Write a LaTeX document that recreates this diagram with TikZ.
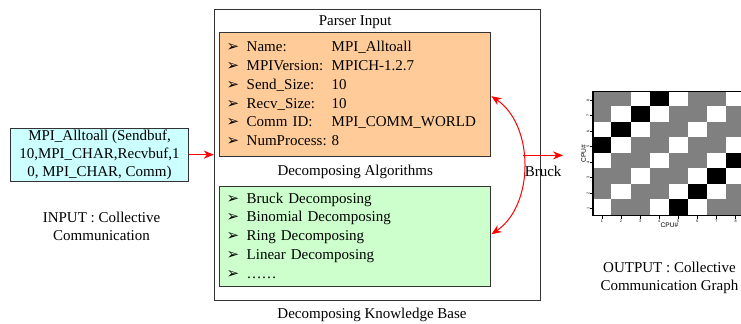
\documentclass[tikz,border=0pt]{standalone}
\usepackage{fontspec}
\setmainfont{Liberation Serif}
\setsansfont{Liberation Sans}
\newfontfamily\dingfont{DejaVu Sans}
\usetikzlibrary{positioning,arrows.meta,calc,matrix}
\definecolor{callfill}{RGB}{204,255,255}
\definecolor{parsefill}{RGB}{255,204,153}
\definecolor{algofill}{RGB}{204,255,204}
\definecolor{linkred}{RGB}{255,0,0}
\colorlet{cg}{black!50}
\colorlet{cw}{white}
\colorlet{ck}{black}
\newcommand{\bul}{{\dingfont\fontsize{12}{12}\selectfont ➢}}
\tikzset{
  txt/.style={font=\fontsize{12}{14.4}\selectfont, align=center, inner sep=0pt},
  seclbl/.style={font=\fontsize{12}{14.4}\selectfont, inner sep=0pt, text=black},
  callbox/.style={txt, draw=black!80, fill=callfill, minimum width=142.4pt, minimum height=42.4pt},
  kbbox/.style={draw=black!80, minimum width=260.8pt, minimum height=232.6pt, inner sep=0pt},
  listbase/.style={matrix of nodes, ampersand replacement=\amp, draw=black!80,
                   inner xsep=5.6pt, row sep=0pt, column sep=0pt, anchor=north west,
                   nodes={font=\fontsize{12}{15}\selectfont, inner sep=0pt, anchor=west,
                          text height=11pt, text depth=4pt},
                   column 1/.style={nodes={text width=16pt}}},
  parsef/.style={listbase, fill=parsefill, inner ysep=4.75pt,
                 column 2/.style={nodes={text width=68pt}},
                 column 3/.style={nodes={text width=121.6pt}}},
  algof/.style={listbase, fill=algofill, inner ysep=2.6pt,
                column 2/.style={nodes={text width=189.6pt}}},
  redarrow/.style={-{Stealth[length=8pt, width=6.5pt]}, linkred, line width=0.8pt},
  bothred/.style={redarrow, {Stealth[length=8pt, width=6.5pt]}-{Stealth[length=8pt, width=6.5pt]}},
  gridframe/.style={draw, line width=1.2pt, minimum width=122.24pt, minimum height=99.2pt, inner sep=0pt},
  axlbl/.style={font=\fontsize{5.3}{6}\sffamily, inner sep=0pt},
  ticknum/.style={font=\fontsize{3}{3}\sffamily, inner sep=0.5pt},
  axtick/.style={line width=0.4pt}
}

\begin{document}
\begin{tikzpicture}[x=0.8pt, y=-0.8pt]
\useasboundingbox (0,0) rectangle (741,324);
\node (kb) [kbbox] at (377,154.65) {};
\matrix (parse) [parsef, at={($(kb.north west)+(5.7,23)$)}] {
  \bul \amp Name: \amp MPI\_Alltoall \\
  \bul \amp MPIVersion: \amp MPICH-1.2.7 \\
  \bul \amp Send\_Size: \amp 10 \\
  \bul \amp Recv\_Size: \amp 10 \\
  \bul \amp Comm ID: \amp MPI\_COMM\_WORLD \\
  \bul \amp NumProcess: \amp 8 \\
};
\matrix (algo) [algof, below=23.2pt of parse.south west, anchor=north west] {
  \bul \amp Bruck Decomposing \\
  \bul \amp Binomial Decomposing \\
  \bul \amp Ring Decomposing \\
  \bul \amp Linear Decomposing \\
  \bul \amp …… \\
};
\node (parsetitle) [seclbl, above=2.8pt of parse] {Parser Input};
\node (algotitle) [seclbl, above=5.6pt of algo] {Decomposing Algorithms};
\node (kbtitle) [seclbl, below=6.4pt of kb, xshift=-4pt] {Decomposing Knowledge Base};
\node (call) [callbox, left=20pt of kb] {MPI\_Alltoall (Sendbuf,\\10,MPI\_CHAR,Recvbuf,1\\0, MPI\_CHAR, Comm)};
\node (inlbl) [txt, below=24pt of call, xshift=1.6pt] {INPUT : Collective\\Communication};
\draw[redarrow] (call) -- (kb);
\coordinate (pa) at ($(parse.south east)+(0.5,-60.7)$);
\coordinate (pb) at ($(algo.north east)+(0.5,48.3)$);
\draw[bothred] (pa) .. controls +(43,29) and +(43,-29) .. (pb) coordinate[pos=0.44] (split);
\coordinate (outtip) at (563,155);
\draw[redarrow] (split) -- (split -| outtip) node[seclbl, midway, below=8pt] {Bruck};
\coordinate (gtl) at (592.3,91);
\foreach \cells [count=\rw] in {{cg,cg,cw,ck,cw,cg,cg,cw},{cg,cw,ck,cw,cg,cg,cw,cg},
    {cw,ck,cw,cg,cg,cw,cg,cg},{ck,cw,cg,cg,cw,cg,cg,cw},{cw,cg,cg,cw,cg,cg,cw,ck},
    {cg,cg,cw,cg,cg,cw,ck,cw},{cg,cw,cg,cg,cw,ck,cw,cg},{cw,cg,cg,cw,ck,cw,cg,cg}}
  \foreach \c [count=\cl] in \cells
    \fill[\c] ($(gtl)+({(\cl-1)*19.1},{(\rw-1)*15.5})$) rectangle +(19.1,15.5);
\node (graph) [gridframe, anchor=north west] at (gtl) {};
\foreach \i in {1,...,8} {
  \draw[axtick] ($(graph.south west)+({(\i-0.5)*19.1},0)$) -- +(0,2.5) node[ticknum, below] {\i};
  \draw[axtick] ($(graph.south west)+(0,{-(\i-0.5)*15.5})$) -- +(-2,0) node[ticknum, rotate=90, anchor=south] {\i};
}
\node (xlbl) [axlbl, below=5pt of graph] {CPU\#};
\node (ylbl) [axlbl, rotate=90, anchor=south] at ($(graph.west)+(-6,0)$) {CPU\#};
\node (outlbl) [txt, below=36pt of graph] {OUTPUT : Collective\\Communication Graph};
\end{tikzpicture}
\end{document}
